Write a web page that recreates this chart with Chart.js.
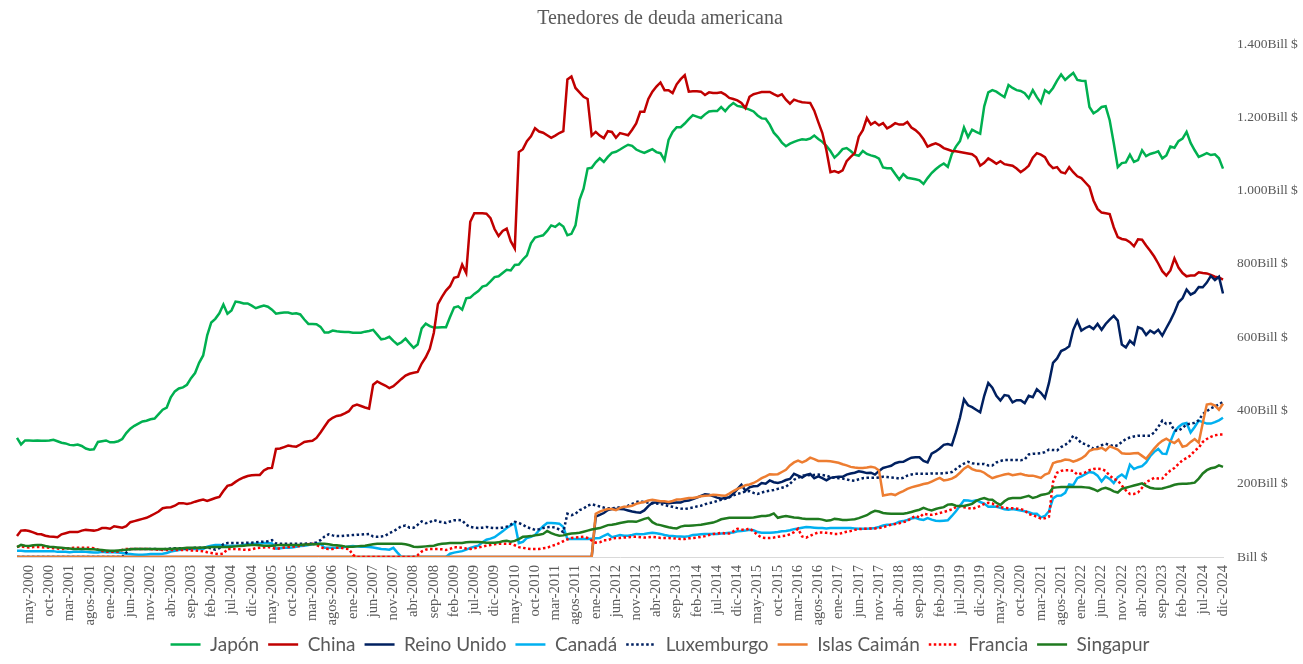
<!DOCTYPE html>
<html>
<head>
<meta charset="utf-8">
<script src="https://cdn.jsdelivr.net/npm/chart.js@4.4.1/dist/chart.umd.min.js"></script>
<style>
  html,body{margin:0;padding:0;background:#fff;}
  canvas{display:block;}
</style>
</head>
<body>
<canvas id="c" width="1303" height="664"></canvas>
<script>
// Categories: monthly, feb-2000 .. dic-2024
const monthNames = ['ene','feb','mar','abr','may','jun','jul','agos','sep','oct','nov','dic'];
const firstYear = 2000, firstMonth = 1, lastYear = 2024, lastMonth = 11;
const labels = [];
for (let y = firstYear; y <= lastYear; y++) {
  for (let m = (y === firstYear ? firstMonth : 0); m <= (y === lastYear ? lastMonth : 11); m++) {
    labels.push(monthNames[m] + '-' + y);
  }
}

// Series values (Bill $)
const japon = [
 325,307,318,318,317,318,317,317,318,320,316,
 312,310,306,305,307,303,296,293,294,314,316,318,
 313,313,316,322,338,350,358,364,370,372,376,378,
 390,402,408,436,452,460,463,470,488,502,530,550,
 605,640,650,665,689,664,673,697,695,692,692,686,
 679,683,686,683,675,664,666,667,667,664,665,662,
 648,636,636,635,628,613,613,618,616,615,614,614,
 612,612,612,615,617,620,607,594,596,601,590,580,
 586,596,583,571,580,624,637,630,626,626,627,627,
 655,681,684,675,706,708,718,726,738,741,752,764,
 766,775,784,782,797,798,812,823,856,872,875,878,
 890,905,901,910,902,878,882,905,975,1005,1060,1062,
 1077,1088,1078,1092,1103,1106,1112,1119,1125,1122,1112,1107,
 1103,1108,1113,1105,1102,1083,1138,1160,1173,1173,1183,1195,
 1206,1202,1198,1208,1216,1217,1217,1228,1217,1230,1239,1231,
 1229,1225,1221,1216,1205,1197,1196,1180,1158,1146,1131,1121,
 1128,1133,1137,1140,1139,1142,1150,1141,1133,1122,1108,1090,
 1100,1113,1116,1108,1098,1095,1108,1100,1096,1093,1087,1063,
 1061,1061,1045,1030,1045,1035,1033,1031,1028,1018,1034,1048,
 1058,1067,1074,1065,1100,1120,1135,1172,1146,1166,1160,1155,
 1230,1268,1274,1270,1262,1255,1288,1280,1274,1272,1266,1252,
 1274,1255,1239,1274,1266,1280,1300,1317,1302,1312,1321,1302,
 1300,1299,1228,1211,1218,1228,1230,1192,1130,1064,1075,1077,
 1098,1078,1083,1110,1094,1100,1103,1107,1088,1096,1120,1117,
 1135,1142,1160,1130,1110,1092,1097,1102,1097,1099,1088,1060
];
const china = [
 57,72,73,71,67,63,62,58,56,55,54,
 62,65,68,68,68,72,74,73,72,74,79,79,
 77,84,82,80,84,95,98,101,104,107,112,118,
 124,133,135,136,140,147,147,145,147,151,154,157,
 153,157,161,164,180,194,197,205,212,217,221,223,
 224,224,236,242,243,295,296,300,304,302,301,307,
 314,316,317,325,340,356,372,380,385,387,392,398,
 412,416,412,408,405,470,479,473,468,461,466,476,
 486,495,500,503,505,528,545,568,612,690,710,727,
 739,762,765,798,775,915,938,938,938,937,925,895,
 876,890,896,862,842,1105,1113,1135,1148,1170,1161,1158,
 1151,1144,1150,1157,1162,1303,1311,1280,1268,1256,1250,1150,
 1160,1150,1143,1162,1160,1144,1157,1154,1151,1166,1183,1215,
 1215,1250,1270,1284,1295,1274,1274,1266,1290,1304,1315,1270,
 1271,1271,1270,1261,1268,1266,1266,1268,1262,1253,1250,1246,
 1239,1225,1256,1263,1266,1269,1269,1269,1263,1258,1263,1248,
 1237,1248,1244,1241,1240,1239,1218,1187,1157,1110,1050,1053,
 1049,1055,1080,1092,1102,1147,1165,1198,1180,1187,1178,1184,
 1170,1176,1184,1180,1180,1187,1172,1165,1155,1140,1120,1125,
 1129,1124,1116,1112,1108,1107,1105,1103,1101,1099,1091,1068,
 1076,1088,1081,1073,1080,1072,1070,1068,1060,1050,1058,1068,
 1090,1102,1098,1091,1072,1061,1064,1050,1047,1064,1050,1039,
 1034,1022,1010,973,950,940,938,936,900,873,868,866,
 859,848,867,866,850,836,820,801,780,768,782,815,
 790,775,766,768,768,777,775,774,770,765,763,757
];
const reinoUnido = [
 0,0,0,0,0,0,0,0,0,0,0,
 0,0,0,0,0,0,0,0,0,0,0,0,
 0,0,0,0,0,0,0,0,0,0,0,0,
 0,0,0,0,0,0,0,0,0,0,0,0,
 0,0,0,0,0,0,0,0,0,0,0,0,
 0,0,0,0,0,0,0,0,0,0,0,0,
 0,0,0,0,0,0,0,0,0,0,0,0,
 0,0,0,0,0,0,0,0,0,0,0,0,
 0,0,0,0,0,0,0,0,0,0,0,0,
 0,0,0,0,0,0,0,0,0,0,0,0,
 0,0,0,0,0,0,0,0,0,0,0,0,
 0,0,0,0,0,0,0,0,0,0,0,0,
 110,115,120,128,131,131,131,130,127,124,122,121,
 127,139,148,149,150,148,147,148,149,149,153,154,
 158,162,167,171,170,166,162,159,161,163,173,185,
 197,181,190,193,194,202,200,209,204,202,205,210,
 213,227,222,217,224,227,215,220,215,209,216,218,
 219,219,225,228,230,234,232,229,230,225,235,243,
 246,249,256,259,260,266,271,272,272,262,258,282,
 288,296,306,308,305,340,380,430,414,409,402,395,
 440,475,462,440,427,442,440,422,428,428,420,440,
 436,458,448,434,475,530,542,562,567,575,620,645,
 618,625,630,622,636,620,636,648,658,645,580,572,
 590,580,627,623,606,618,611,620,604,625,645,668,
 695,706,730,716,722,737,736,749,767,756,765,719
];
const canada = [
 17,17,16,16,16,16,16,16,16,16,14,
 14,14,13,14,14,15,14,13,12,12,14,13,
 13,13,12,11,9,8,7,6,6,7,8,8,
 8,9,11,15,17,19,21,22,22,22,22,22,
 28,31,33,33,32,30,31,31,31,33,35,36,
 36,37,38,38,37,23,24,25,25,26,28,30,
 31,33,35,37,36,25,25,25,25,26,27,29,
 30,29,28,28,27,26,24,22,21,20,25,12,
 0,0,0,0,0,0,0,0,0,0,0,0,
 9,12,14,16,20,25,28,31,40,47,50,54,
 62,70,79,86,92,38,41,52,55,60,73,84,
 93,93,92,91,82,49,49,49,49,49,49,50,
 51,52,58,63,54,57,60,58,58,60,63,62,
 63,65,66,65,63,60,58,57,56,56,55,57,
 60,61,62,63,63,63,63,64,65,66,67,70,
 71,72,74,73,68,66,66,66,67,68,70,71,
 73,76,78,80,82,81,80,79,79,78,79,79,
 79,79,79,79,78,77,77,77,78,79,82,86,
 88,89,91,96,98,101,105,107,103,101,106,102,
 99,98,99,100,112,125,140,155,154,152,155,150,
 146,137,138,137,134,130,129,131,129,127,125,122,
 118,118,108,112,125,160,167,168,175,198,196,215,
 220,226,232,230,222,206,220,213,202,218,225,216,
 252,240,245,248,258,275,287,295,282,281,315,342,
 355,363,366,340,355,372,368,364,364,368,373,380
];
const luxemburgo = [
 0,0,0,0,0,0,0,0,0,0,0,
 0,0,0,0,0,0,0,0,0,0,0,0,
 0,0,0,0,12,22,22,22,22,22,22,22,
 21,21,22,23,24,24,24,23,24,25,25,25,
 26,24,20,24,35,38,38,38,38,38,39,39,
 40,41,42,43,46,37,36,36,36,36,36,36,
 36,37,36,40,46,56,62,59,57,57,58,59,
 60,61,61,62,63,56,55,56,58,65,70,77,
 84,86,80,80,88,97,92,95,101,97,95,93,
 97,100,101,100,88,82,80,79,80,82,80,79,
 79,80,83,88,96,93,88,81,78,74,76,79,
 81,82,80,75,68,118,114,118,128,132,140,144,
 141,138,135,133,133,134,136,136,140,145,150,152,
 150,148,146,146,145,142,139,137,134,132,131,133,
 135,138,140,144,147,149,153,156,159,163,168,172,
 175,179,180,175,172,176,179,181,183,186,189,192,
 200,211,216,222,223,224,224,225,224,222,218,216,
 215,214,212,209,208,212,215,216,216,216,217,219,
 218,217,216,214,216,222,225,227,227,227,227,228,
 228,228,229,230,232,240,248,255,260,256,254,254,
 254,250,250,258,262,265,265,265,265,264,266,280,
 282,282,283,286,293,292,291,300,306,314,331,323,
 311,308,302,296,300,305,309,306,302,305,314,322,
 326,329,331,331,331,331,340,355,372,363,365,345,
 345,352,362,364,366,373,390,398,406,411,416,424
];
const islasCaiman = [
 0,0,0,0,0,0,0,0,0,0,0,
 0,0,0,0,0,0,0,0,0,0,0,0,
 0,0,0,0,0,0,0,0,0,0,0,0,
 0,0,0,0,0,0,0,0,0,0,0,0,
 0,0,0,0,0,0,0,0,0,0,0,0,
 0,0,0,0,0,0,0,0,0,0,0,0,
 0,0,0,0,0,0,0,0,0,0,0,0,
 0,0,0,0,0,0,0,0,0,0,0,0,
 0,0,0,0,0,0,0,0,0,0,0,0,
 0,0,0,0,0,0,0,0,0,0,0,0,
 0,0,0,0,0,0,0,0,0,0,0,0,
 0,0,0,0,0,0,0,0,0,0,0,0,
 118,124,128,131,131,128,134,137,138,140,145,148,
 150,154,156,154,152,152,150,153,157,157,159,161,
 161,163,166,167,168,170,169,168,167,173,180,186,
 190,196,198,202,208,215,220,226,225,226,232,238,
 250,258,263,258,263,271,267,262,262,262,261,259,
 257,253,250,246,244,243,243,244,246,244,236,168,
 170,172,169,175,180,186,190,193,196,199,201,206,
 211,216,209,211,214,220,230,241,248,240,236,235,
 230,222,215,219,222,225,227,223,225,227,224,222,
 222,219,216,225,229,256,260,262,266,265,260,264,
 269,277,290,294,295,298,291,302,298,293,283,282,
 282,283,284,276,268,282,296,308,317,323,316,311,
 320,301,304,314,322,312,366,416,418,413,402,418
];
const francia = [
 28,29,27,26,27,27,27,26,25,24,23,
 22,23,24,25,25,25,25,25,24,20,16,14,
 14,14,15,19,22,22,22,22,22,22,21,21,
 20,19,19,19,19,19,19,19,18,18,17,16,
 13,11,9,8,9,22,22,22,21,20,19,21,
 24,25,26,27,25,22,24,26,27,28,29,30,
 33,35,36,33,27,23,22,22,25,25,23,22,
 6,0,0,0,0,0,0,0,0,0,0,0,
 0,0,0,0,5,15,20,22,22,22,21,19,
 22,27,26,25,23,22,24,26,28,31,33,35,
 36,36,36,36,32,27,25,23,22,22,22,24,
 25,30,33,38,43,48,52,53,54,55,52,45,
 39,40,46,46,50,52,52,53,54,55,55,54,
 53,54,55,54,52,52,52,51,50,49,49,51,
 52,53,55,57,60,63,64,66,64,64,70,77,
 75,74,78,70,60,53,52,52,53,55,57,58,
 62,68,77,56,53,58,63,67,67,66,65,63,
 63,66,69,71,74,76,77,77,78,78,79,81,
 85,88,90,92,95,98,106,112,108,118,116,115,
 117,120,123,126,130,136,139,136,134,131,135,139,
 145,148,146,139,136,134,133,133,132,131,127,117,
 114,110,105,106,110,205,230,235,237,237,235,225,
 228,231,237,240,241,240,235,222,213,209,195,182,
 172,172,176,189,205,210,216,214,214,226,236,243,
 254,264,270,277,290,298,314,322,328,332,334,334
];
const singapur = [
 27,33,31,30,32,33,33,30,28,27,26,
 25,24,23,22,22,22,22,21,21,20,19,18,
 17,17,18,19,20,21,22,22,22,22,22,22,
 22,22,22,22,23,23,24,25,25,25,25,26,
 26,27,27,27,27,27,28,29,30,31,32,33,
 33,32,31,31,31,32,33,33,33,33,33,33,
 34,34,35,35,36,36,35,33,32,31,29,28,
 28,29,30,31,33,35,36,36,36,36,36,36,
 36,35,32,28,27,28,29,30,31,34,36,37,
 38,38,38,38,40,41,41,41,40,39,39,39,
 40,43,44,42,44,49,55,56,57,59,61,63,
 71,65,61,58,59,62,64,65,66,69,72,75,
 77,79,83,87,88,90,93,95,97,97,96,100,
 104,107,95,89,87,84,81,79,78,83,85,85,
 86,87,88,90,92,94,98,103,105,107,107,107,
 107,107,107,108,110,112,112,114,119,107,110,112,
 110,108,107,105,104,104,104,104,102,99,100,104,
 103,101,101,102,103,106,110,114,121,126,124,120,
 119,118,118,118,118,120,123,126,129,134,130,127,
 131,134,136,143,144,140,139,139,142,145,153,158,
 161,157,156,148,142,152,159,161,161,161,164,167,
 161,164,169,171,174,189,190,191,191,191,191,191,
 191,190,189,185,180,186,189,185,179,176,186,189,
 192,195,198,201,194,189,187,186,187,190,193,197,
 199,200,200,201,203,214,228,237,242,244,250,246
];

// Axis ticks
const yTicks = [0, 200, 400, 600, 800, 1000, 1200, 1400];
const tickLabelEvery = 5, tickLabelStart = 3; // first label: may-2000

function fmtBill(v) {
  if (v === 0) return 'Bill $';
  const s = v >= 1000 ? Math.floor(v / 1000) + '.' + String(v % 1000).padStart(3, '0') : String(v);
  return s + 'Bill $';
}

const serif = "'Liberation Serif', 'DejaVu Serif', serif";
const grey = '#595959';

const seriesDefs = [
  { label: 'Japón', data: japon, color: '#00b050' },
  { label: 'China', data: china, color: '#c00000' },
  { label: 'Reino Unido', data: reinoUnido, color: '#002060' },
  { label: 'Canadá', data: canada, color: '#00b0f0' },
  { label: 'Luxemburgo', data: luxemburgo, color: '#002060', dash: [2.5, 2.5] },
  { label: 'Islas Caimán', data: islasCaiman, color: '#ed7d31' },
  { label: 'Francia', data: francia, color: '#ff0000', dash: [2.5, 2.5] },
  { label: 'Singapur', data: singapur, color: '#1f7a1f' }
];

const datasets = seriesDefs.map((s, k) => ({
  label: s.label,
  data: s.data,
  borderColor: s.color,
  backgroundColor: s.color,
  borderWidth: 2.5,
  borderDash: s.dash || [],
  pointRadius: 0,
  tension: 0,
  fill: false,
  order: seriesDefs.length - k
}));

new Chart(document.getElementById('c'), {
  type: 'line',
  data: { labels, datasets },
  options: {
    responsive: false,
    animation: false,
    devicePixelRatio: 1,
    layout: { padding: { left: 17, right: 0, top: 0, bottom: 0 } },
    plugins: {
      title: {
        display: true,
        text: 'Tenedores de deuda americana',
        color: grey,
        font: { family: serif, size: 20, weight: 'normal' },
        padding: { top: 7, bottom: 13 }
      },
      legend: {
        position: 'bottom',
        labels: {
          usePointStyle: true,
          pointStyle: 'line',
          pointStyleWidth: 30,
          color: grey,
          font: { family: "Lato, 'Open Sans', sans-serif", size: 19 },
          padding: 9,
          sort: (a, b) => a.datasetIndex - b.datasetIndex,
          generateLabels: (chart) => {
            const items = Chart.defaults.plugins.legend.labels.generateLabels(chart);
            items.forEach(it => {
              const ds = chart.data.datasets[it.datasetIndex];
              it.lineDash = ds.borderDash;
              it.lineWidth = 2.5;
              it.strokeStyle = ds.borderColor;
              it.lineCap = 'butt';
            });
            return items;
          }
        }
      },
      tooltip: { enabled: false }
    },
    scales: {
      x: {
        afterFit: (s) => { s.height = 69; },
        grid: { display: false, drawTicks: false },
        border: { display: true, color: '#d9d9d9', width: 1 },
        ticks: {
          autoSkip: false,
          maxRotation: 90,
          minRotation: 90,
          padding: 8,
          color: grey,
          font: { family: serif, size: 14.5 },
          callback: (v, i) => ((i - tickLabelStart) % tickLabelEvery === 0 && i >= tickLabelStart) ? labels[i] : null
        }
      },
      y: {
        position: 'right',
        min: yTicks[0],
        max: yTicks[yTicks.length - 1],
        afterBuildTicks: (scale) => { scale.ticks = yTicks.map(v => ({ value: v })); },
        afterFit: (s) => { s.width = 80; },
        grid: { display: false, drawTicks: false },
        border: { display: false },
        ticks: {
          padding: 14,
          color: grey,
          font: { family: serif, size: 13.5 },
          callback: (v) => fmtBill(v)
        }
      }
    }
  }
});
</script>
</body>
</html>
